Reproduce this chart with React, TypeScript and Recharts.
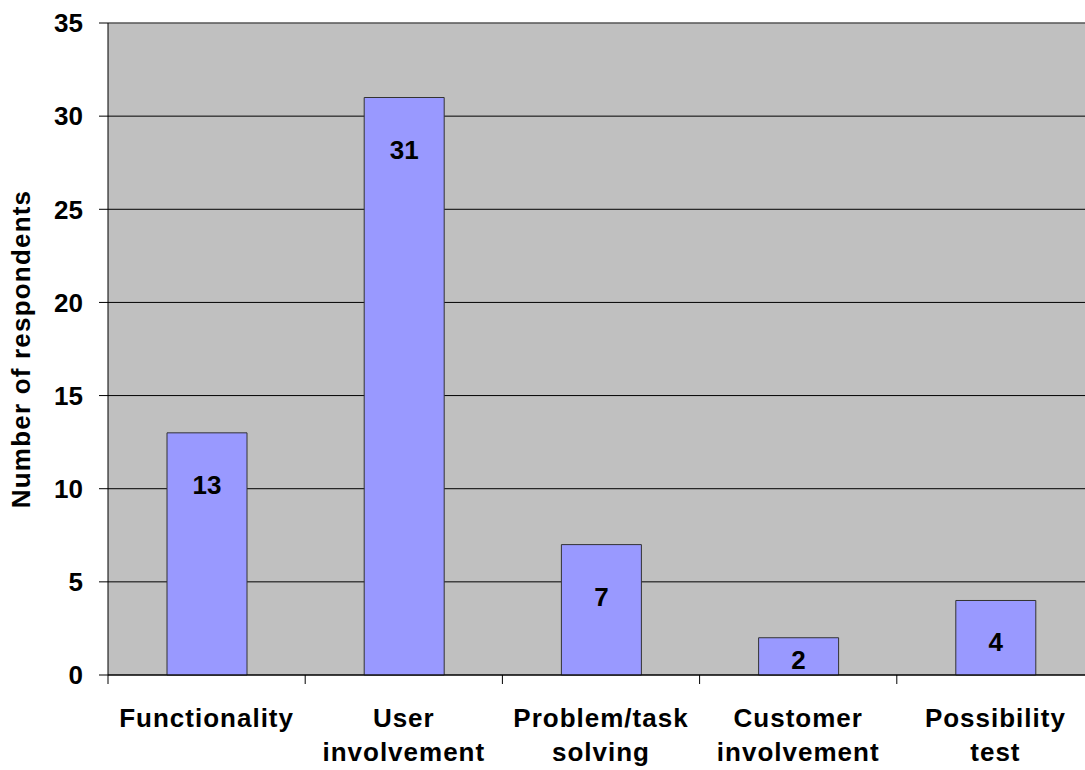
import React from "react";
import {
  BarChart,
  Bar,
  XAxis,
  YAxis,
  CartesianGrid,
  LabelList,
  ReferenceLine,
} from "recharts";

const categories = [
  "Functionality",
  "User\ninvolvement",
  "Problem/task\nsolving",
  "Customer\ninvolvement",
  "Possibility\ntest",
];
const respondents = [13, 31, 7, 2, 4];
const yTicks = [0, 5, 10, 15, 20, 25, 30, 35];

const data = categories.map((name, i) => ({ name, value: respondents[i] }));

// the plot runs a little past the right edge of the visible frame
const W = 1085;
const CHART_W = 1094;
const H = 770;
const LEFT = 108;
const TOP = 23;
const BOTTOM = 675;
const BAND = (CHART_W - LEFT) / categories.length;
const FONT = "'Liberation Sans', Arial, sans-serif";

function CategoryTick(props: any) {
  const { x, payload } = props;
  const lines = String(payload.value).split("\n");
  const left = x - BAND / 2;
  return (
    <g>
      <line x1={left} y1={BOTTOM} x2={left} y2={BOTTOM + 9} stroke="#000" />
      <text
        textAnchor="middle"
        fontFamily={FONT}
        fontWeight="bold"
        fontSize={26}
        letterSpacing={1}
        fill="#000"
      >
        {lines.map((l, i) => (
          <tspan key={i} x={x} y={BOTTOM + 52 + i * 34}>
            {l}
          </tspan>
        ))}
      </text>
    </g>
  );
}

function ValueLabel(props: any) {
  const { x, y, width, height, value } = props;
  const dy = Math.min(52, height / 2 + 4);
  return (
    <text
      x={x + width / 2}
      y={y + dy}
      textAnchor="middle"
      dominantBaseline="central"
      fontFamily={FONT}
      fontWeight="bold"
      fontSize={26}
      fill="#000"
    >
      {value}
    </text>
  );
}

function AxisTitle() {
  const cy = TOP + (BOTTOM - TOP) / 2;
  return (
    <text
      x={21}
      y={cy}
      transform={`rotate(-90, 21, ${cy})`}
      textAnchor="middle"
      dominantBaseline="central"
      fontFamily={FONT}
      fontWeight="bold"
      fontSize={26}
      letterSpacing={1.2}
      fill="#000"
    >
      Number of respondents
    </text>
  );
}

export default function App() {
  return (
    <div
      style={{
        position: "absolute",
        left: 0,
        top: 0,
        width: W,
        height: H,
        overflow: "hidden",
        background: "#fff",
      }}
    >
      <BarChart
        width={CHART_W}
        height={H}
        data={data}
        margin={{ top: TOP, right: 0, left: 0, bottom: 0 }}
        barCategoryGap={0}
      >
        <CartesianGrid vertical={false} stroke="#000" fill="#C0C0C0" />
        <XAxis
          dataKey="name"
          height={H - BOTTOM}
          axisLine={{ stroke: "#000" }}
          tickLine={false}
          tick={<CategoryTick />}
          interval={0}
        />
        <YAxis
          width={LEFT}
          domain={[0, 35]}
          ticks={yTicks}
          interval={0}
          tickSize={9}
          tickMargin={16}
          axisLine={{ stroke: "#000" }}
          tickLine={{ stroke: "#000" }}
          tick={{ fill: "#000", fontSize: 26, fontWeight: "bold", fontFamily: FONT }}
          label={<AxisTitle />}
        />
        <ReferenceLine y={35} stroke="#808080" />
        <Bar
          dataKey="value"
          barSize={80}
          fill="#9999FF"
          stroke="#333"
          strokeWidth={1}
          isAnimationActive={false}
        >
          <LabelList dataKey="value" content={<ValueLabel />} />
        </Bar>
      </BarChart>
    </div>
  );
}
